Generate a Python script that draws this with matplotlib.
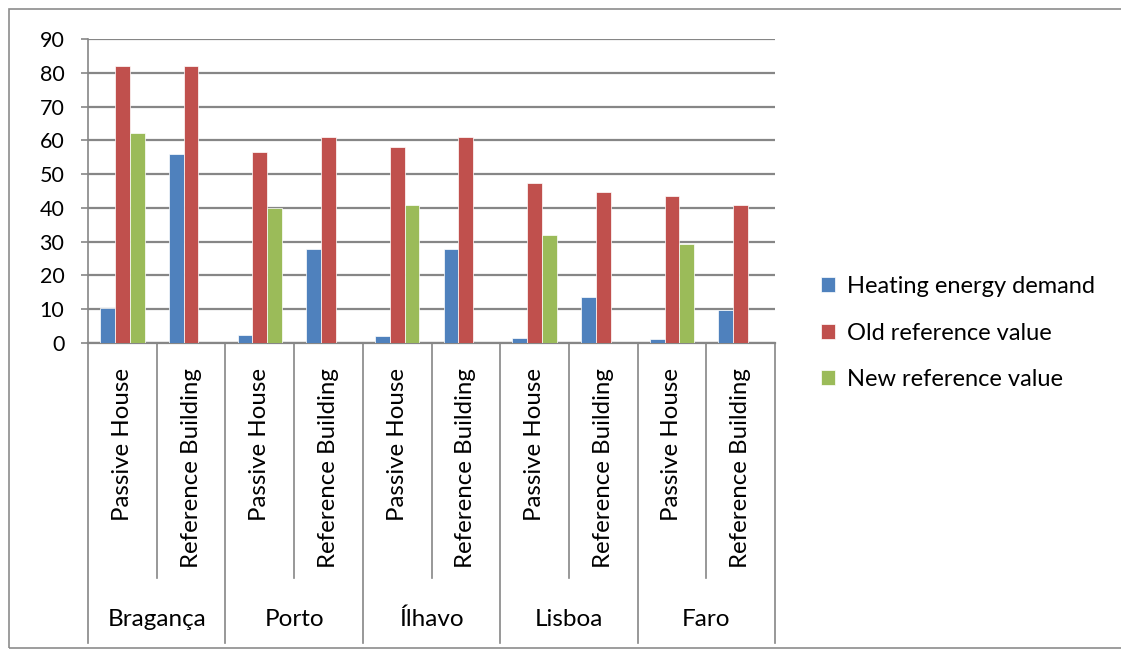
import matplotlib
matplotlib.use("Agg")
import matplotlib.pyplot as plt
import numpy as np
from matplotlib.patches import Rectangle
from matplotlib.lines import Line2D

cities = ["Bragança", "Porto", "Ílhavo", "Lisboa", "Faro"]
types = ["Passive House", "Reference Building"]
series_names = ["Heating energy demand", "Old reference value", "New reference value"]
heating = [10.3, 56.0, 2.3, 27.8, 2.2, 27.8, 1.4, 13.7, 1.1, 9.9]
old_ref = [82.1, 82.1, 56.4, 60.9, 58.1, 60.9, 47.3, 44.8, 43.5, 41.0]
new_ref = [62.2, None, 40.1, None, 40.8, None, 32.1, None, 29.4, None]
yticks = [0, 10, 20, 30, 40, 50, 60, 70, 80, 90]
colors = ["#4F81BD", "#C0504D", "#9BBB59"]

plt.rcParams['font.family'] = ['Lato', 'DejaVu Sans']

W, H = 1121, 651
fig = plt.figure(figsize=(W / 100, H / 100), dpi=100)
fig.patch.set_facecolor("white")

# outer border
fig.add_artist(Rectangle((9 / W, 3 / H), (W + 5) / W, (H - 12) / H, transform=fig.transFigure,
                         fill=False, edgecolor="#8c8c8c", lw=1.2))

ax = fig.add_axes([88 / W, (H - 343) / H, 687 / W, 304 / H])
n = len(heating)
x = np.arange(n) + 0.5
bw = 0.215
data = [heating, old_ref, new_ref]
for k, (vals, c, name) in enumerate(zip(data, colors, series_names)):
    xs = [xi + (k - 1) * bw for xi, v in zip(x, vals) if v is not None]
    vs = [v for v in vals if v is not None]
    ax.bar(xs, vs, width=bw, color=c, edgecolor="white", linewidth=0.5, label=name, zorder=3)

ax.set_xlim(0, n)
ax.set_ylim(0, 90)
ax.set_yticks(yticks)
ax.set_yticklabels([str(t) for t in yticks], fontsize=15.5)
ax.yaxis.grid(True, color="#868686", lw=1.6, zorder=0)
ax.set_axisbelow(True)
for s in ["top", "right"]:
    ax.spines[s].set_visible(False)
ax.spines["left"].set_color("#868686")
ax.spines["bottom"].set_color("#868686")
ax.spines["left"].set_linewidth(1.2)
ax.spines["bottom"].set_linewidth(1.6)
ax.tick_params(axis="y", length=5, color="#868686", width=1.2, pad=12)
ax.set_xticks([])

trans = ax.get_xaxis_transform()
# separators
for i in range(n + 1):
    low = -0.987 if i % 2 == 0 else -0.773
    ax.add_line(Line2D([i, i], [0, low], transform=trans, color="#868686", lw=1.2, clip_on=False))

for i in range(n):
    ax.text(x[i], -0.082, types[i % 2], transform=trans, rotation=90, ha="center", va="top",
            fontsize=17.3)
for j, c in enumerate(cities):
    ax.text(2 * j + 1, -0.91, c, transform=trans, ha="center", va="center", fontsize=17.5)

ax.legend(loc="center left", bbox_to_anchor=(800 / W, (H - 333) / H), bbox_transform=fig.transFigure,
          frameon=False, fontsize=17, handlelength=0.6, handleheight=0.6, handletextpad=0.5,
          labelspacing=1.08)

fig.savefig("out.png", dpi=100)
